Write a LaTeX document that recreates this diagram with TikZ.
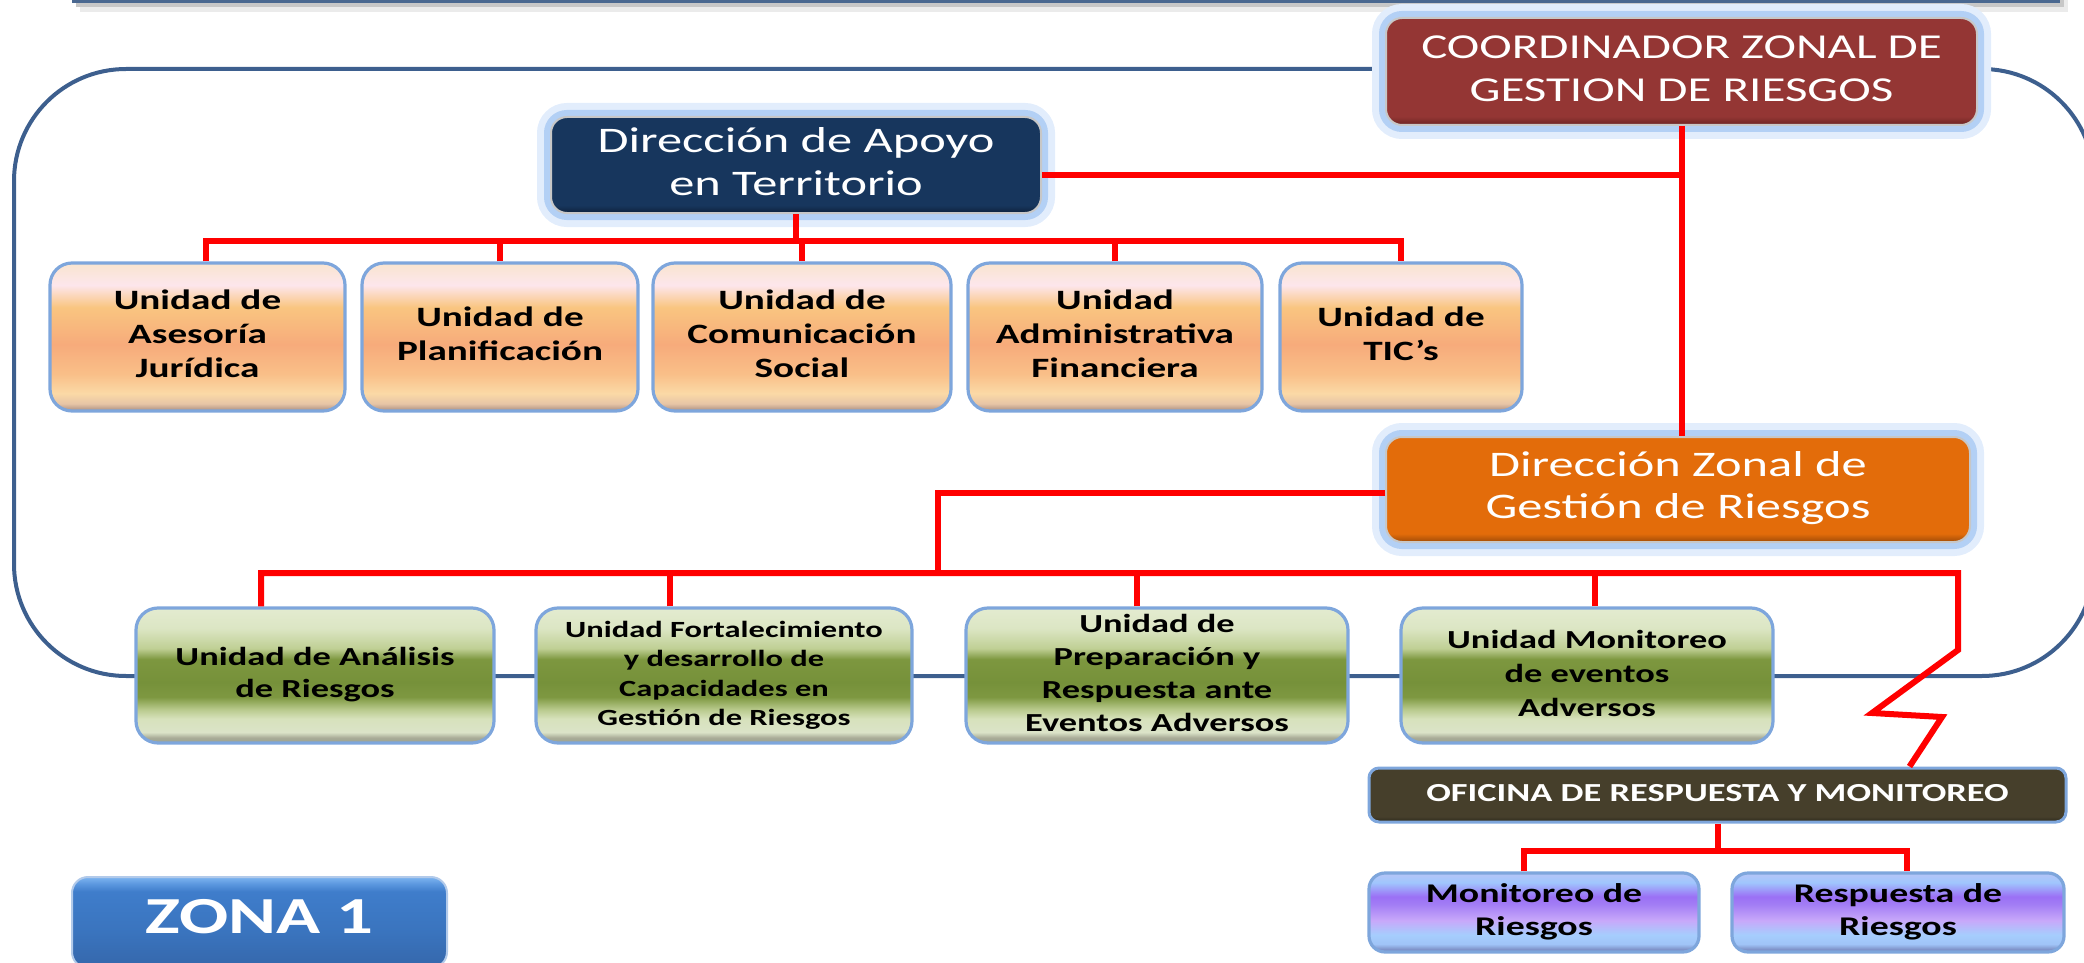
\documentclass[tikz,border=0pt]{standalone}
\usepackage{fontspec}
\setmainfont{Carlito}
\usepackage{graphicx}
\usetikzlibrary{calc}

\definecolor{redc}{HTML}{FF0000}
\definecolor{framec}{HTML}{3D5F8E}
\definecolor{topbar}{HTML}{4A6890}
\definecolor{ubord}{HTML}{7EA6DC}
\definecolor{glow1}{HTML}{E2EDFC}
\definecolor{glow2}{HTML}{B3D0F5}
% orange
\definecolor{o0}{HTML}{A88C80}\definecolor{o1}{HTML}{E7C5A6}\definecolor{o2}{HTML}{FBD9A6}
\definecolor{o3}{HTML}{F9BF88}\definecolor{o4}{HTML}{F7AB7B}\definecolor{o5}{HTML}{F9C580}
\definecolor{o6}{HTML}{FDE6EC}\definecolor{o7}{HTML}{F9E5CF}
% green
\definecolor{g0}{HTML}{9BA08E}\definecolor{g1}{HTML}{A9AC98}\definecolor{g2}{HTML}{DBE3C8}
\definecolor{g3}{HTML}{D7E2BC}\definecolor{g4}{HTML}{B8C98C}\definecolor{g5}{HTML}{7E9841}
\definecolor{g6}{HTML}{76913A}\definecolor{g7}{HTML}{7D973F}\definecolor{g8}{HTML}{BFCF94}
\definecolor{g9}{HTML}{DCE6C4}\definecolor{g10}{HTML}{E3EBD0}
% purple
\definecolor{p0}{HTML}{6E7FB5}\definecolor{p1}{HTML}{7C8EC4}\definecolor{p2}{HTML}{A0C4F7}
\definecolor{p3}{HTML}{A6CDFD}\definecolor{p4}{HTML}{C8A8FA}\definecolor{p5}{HTML}{A37EF5}
\definecolor{p6}{HTML}{9B70F5}\definecolor{p7}{HTML}{A0C6FD}\definecolor{p8}{HTML}{B6C5F7}
% dark boxes
\definecolor{cr1}{HTML}{943634}\definecolor{cr0}{HTML}{6B2424}
\definecolor{ap1}{HTML}{17365D}\definecolor{ap0}{HTML}{0E223C}
\definecolor{zo1}{HTML}{E36C0A}\definecolor{zo0}{HTML}{A04C08}
\definecolor{of1}{HTML}{463F2B}\definecolor{of0}{HTML}{2C281B}
% zona
\definecolor{z0}{HTML}{3567AB}\definecolor{z1}{HTML}{3A74BE}\definecolor{z2}{HTML}{3F7DCB}
\definecolor{z3}{HTML}{5A96DE}\definecolor{z4}{HTML}{7DB4F0}

\pgfdeclareverticalshading{oshade}{100bp}{color(0bp)=(o0); color(25bp)=(o0); color(27.5bp)=(o1);
  color(31bp)=(o2); color(37.5bp)=(o3); color(47.5bp)=(o4); color(60bp)=(o5); color(67.5bp)=(o6);
  color(75bp)=(o7); color(100bp)=(o7)}
\pgfdeclareverticalshading{gshade}{100bp}{color(0bp)=(g0); color(25bp)=(g0); color(27bp)=(g1);
  color(29bp)=(g2); color(34bp)=(g3); color(37.5bp)=(g4); color(42bp)=(g5); color(47.5bp)=(g6);
  color(56bp)=(g7); color(60bp)=(g8); color(67.5bp)=(g9); color(75bp)=(g10); color(100bp)=(g10)}
\pgfdeclareverticalshading{pshade}{100bp}{color(0bp)=(p0); color(25bp)=(p0); color(26.5bp)=(p1);
  color(30bp)=(p2); color(36bp)=(p3); color(45bp)=(p4); color(55bp)=(p5); color(60bp)=(p6);
  color(69bp)=(p7); color(75bp)=(p8); color(100bp)=(p8)}
\pgfdeclareverticalshading{crshade}{100bp}{color(0bp)=(cr0); color(25bp)=(cr0); color(29bp)=(cr1); color(100bp)=(cr1)}
\pgfdeclareverticalshading{apshade}{100bp}{color(0bp)=(ap0); color(25bp)=(ap0); color(29bp)=(ap1); color(100bp)=(ap1)}
\pgfdeclareverticalshading{zoshade}{100bp}{color(0bp)=(zo0); color(25bp)=(zo0); color(29bp)=(zo1); color(100bp)=(zo1)}
\pgfdeclareverticalshading{ofshade}{100bp}{color(0bp)=(of0); color(25bp)=(of0); color(30bp)=(of1); color(100bp)=(of1)}
\pgfdeclareverticalshading{zshade}{100bp}{color(0bp)=(z0); color(25bp)=(z0); color(45bp)=(z1);
  color(67bp)=(z2); color(71bp)=(z3); color(75bp)=(z4); color(100bp)=(z4)}

\newcommand\hs[3]{{\fontsize{#1}{#2}\selectfont\scalebox{1.4}[1]{\begin{tabular}{@{}c@{}}#3\end{tabular}}}}

\tikzset{
  redl/.style={draw=redc, line width=3pt, line join=miter},
  unitbox/.style={draw=ubord, line width=1.6pt, rounded corners=11pt, inner sep=0pt, shade, font=\bfseries},
  obox/.style={unitbox, shading=oshade, minimum height=74pt},
  gbox/.style={unitbox, shading=gshade, minimum height=67.5pt},
  pbox/.style={unitbox, shading=pshade, minimum height=39.5pt, rounded corners=8pt},
  darkbox/.style={draw=white!78!black, line width=1pt, rounded corners=8pt, inner sep=0pt, text=white, shade,
     preaction={draw=glow1, line width=14pt}, preaction={draw=glow2, line width=7pt}},
  ofbox/.style={draw=ubord, line width=1.5pt, rounded corners=5pt, inner sep=0pt, text=white, shade, shading=ofshade, font=\bfseries},
  zbox/.style={draw=ubord!60, line width=1pt, rounded corners=8pt, inner sep=0pt, text=white, shade, shading=zshade, font=\bfseries}
}

\begin{document}
\begin{tikzpicture}[x=0.5pt,y=-0.5pt]
\useasboundingbox (0,0) rectangle (2084,963);
\clip (0,0) rectangle (2084,963);

% top bar (bottom edge of a box cut off above)
\fill[black!8] (80,-30) rectangle (2068,12);
\fill[black!22] (76,-30) rectangle (2064,7);
\fill[topbar] (72,-30) rectangle (2060,3);

% big rounded frame
\draw[framec, line width=2pt, rounded corners=56pt] (14,69) rectangle (2094,676);

% nodes
\node[darkbox, shading=crshade, minimum width=295.5pt, minimum height=53.5pt] (coord) at (1681.5,71.5)
  {\hs{17.5}{21.5}{COORDINADOR ZONAL DE\\GESTION DE RIESGOS}};
\node[darkbox, shading=apshade, minimum width=245pt, minimum height=48pt] (apoyo) at (796,165)
  {\hs{18}{21.5}{Dirección de Apoyo\\en Territorio}};
\node[darkbox, shading=zoshade, minimum width=292pt, minimum height=52.5pt] (zonal) at (1678,489.5)
  {\hs{18}{21}{Dirección Zonal de\\Gestión de Riesgos}};

\node[obox, minimum width=147.5pt] (o1) at (197.5,337) {\hs{14}{17}{Unidad de\\Asesoría\\Jurídica}};
\node[obox, minimum width=138pt]   (o2) at (500,337)   {\hs{14}{17}{Unidad de\\Planificación}};
\node[obox, minimum width=149pt]   (o3) at (802,337)   {\hs{14}{17}{Unidad de\\Comunicación\\Social}};
\node[obox, minimum width=147pt]   (o4) at (1115,337)  {\hs{14}{17}{Unidad\\Administrativa\\Financiera}};
\node[obox, minimum width=121pt]   (o5) at (1401,337)  {\hs{14}{17}{Unidad de\\TIC’s}};

\node[gbox, minimum width=179pt] (g1) at (315,675.5)  {\hs{13}{16}{Unidad de Análisis\\de Riesgos}};
\node[gbox, minimum width=188pt] (g2) at (724,675.5)  {\hs{11.6}{14.7}{Unidad Fortalecimiento\\y desarrollo de\\Capacidades en\\Gestión de Riesgos}};
\node[gbox, minimum width=191pt] (g3) at (1157,675.5) {\hs{13}{16.5}{Unidad de\\Preparación y\\Respuesta ante\\Eventos Adversos}};
\node[gbox, minimum width=186pt] (g4) at (1587,675.5) {\hs{13}{17}{Unidad Monitoreo\\de eventos\\Adversos}};

\node[ofbox, minimum width=348.5pt, minimum height=27pt] (ofi) at (1717.5,795)
  {\hs{13}{15}{OFICINA DE RESPUESTA Y MONITOREO}};
\node[pbox, minimum width=165pt] (mon) at (1534,912.5) {\hs{13.5}{16.5}{Monitoreo de\\Riesgos}};
\node[pbox, minimum width=166pt] (res) at (1898,912.5) {\hs{13.5}{16.5}{Respuesta de\\Riesgos}};

\node[zbox, minimum width=187.5pt, minimum height=45.5pt] (zona) at (259.5,922.5) {\hs{26}{28}{ZONA 1}};

% connectors: coordinator
\draw[redl] (coord.south) -- (coord.south |- zonal.north);
\coordinate (ja) at ($(apoyo.east)+(0,10)$);
\draw[redl] (ja) -- (ja -| coord.south);

% Dirección de Apoyo -> units
\coordinate (busA) at ($(apoyo.south)+(0,27)$);
\draw[redl] (apoyo.south) -- (busA);
\coordinate (o1t) at ([xshift=4pt]o1.north);
\draw[redl] (o1t) |- (busA -| o5.north) -- (o5.north);
\foreach \n in {o2,o3,o4} \draw[redl] (\n.north) -- (\n.north |- busA);

% Dirección Zonal -> units
\coordinate (jz) at ($(zonal.west)+(0,3.5)$);
\coordinate (kz) at (938,573);
\draw[redl] (jz) -| (kz);
\coordinate (g1t) at ([xshift=-27pt]g1.north);
\coordinate (g2t) at ([xshift=-27pt]g2.north);
\coordinate (g3t) at ([xshift=-10pt]g3.north);
\coordinate (g4t) at ([xshift=4pt]g4.north);
\coordinate (rb) at (1958,573);
\coordinate (z1) at (1958,650);
\coordinate (z2) at (1872,713);
\coordinate (z3) at (1942,717);
\coordinate (oft) at ([xshift=96pt]ofi.north);
\draw[redl] (g1t) |- (rb) -- (z1) -- (z2) -- (z3) -- (oft);
\foreach \n in {g2t,g3t,g4t} \draw[redl] (\n) -- (\n |- kz);

% Oficina -> units
\coordinate (busC) at ($(ofi.south)+(0,27)$);
\coordinate (mt) at ([xshift=-5pt]mon.north);
\coordinate (rt) at ([xshift=4.5pt]res.north);
\draw[redl] (ofi.south) -- (busC);
\draw[redl] (mt) |- (busC -| rt) -- (rt);
\end{tikzpicture}
\end{document}
